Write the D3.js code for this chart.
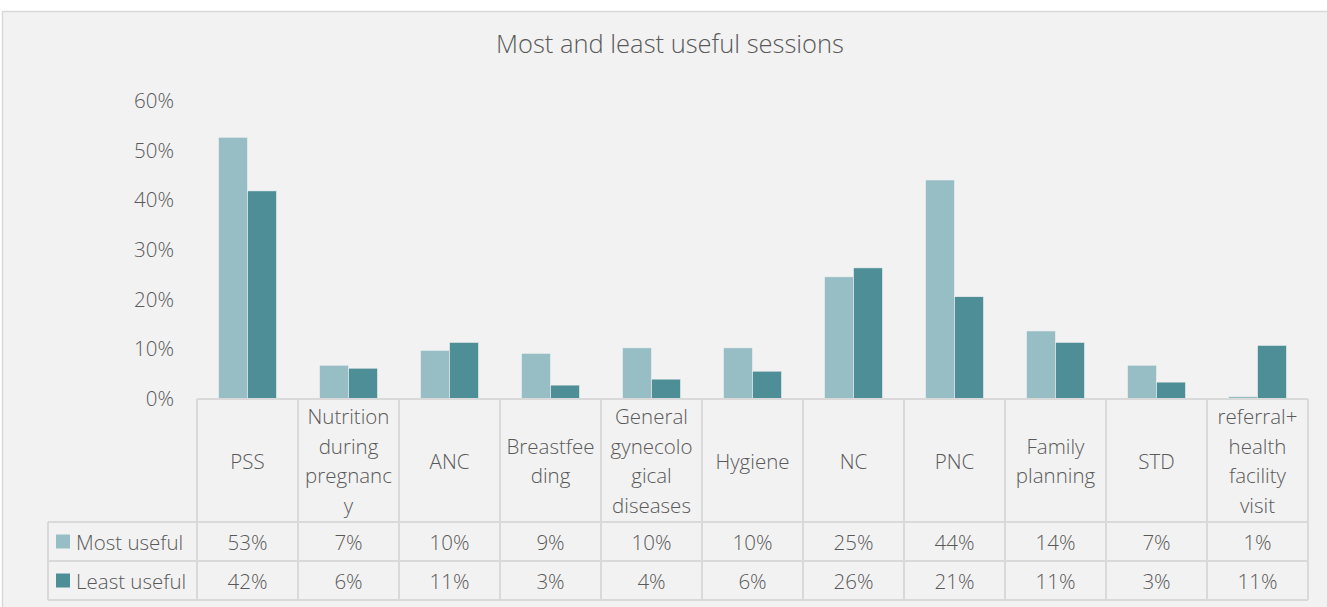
<!DOCTYPE html>
<html>
<head>
<meta charset="utf-8">
<script src="https://cdn.jsdelivr.net/npm/d3@7"></script>
<style>
  html, body { margin: 0; padding: 0; background: #ffffff; }
  svg { display: block; }
  text { font-family: "Open Sans", Lato, sans-serif; fill: #595959; }
</style>
</head>
<body>
<script>
// ---- data ----
const categories = ["PSS", "Nutrition during pregnancy", "ANC", "Breastfeeding", "General gynecological diseases", "Hygiene", "NC", "PNC", "Family planning", "STD", "referral+ health facility visit"];
const categoryLines = [
  ["PSS"],
  ["Nutrition", "during", "pregnanc", "y"],
  ["ANC"],
  ["Breastfee", "ding"],
  ["General", "gynecolo", "gical", "diseases"],
  ["Hygiene"],
  ["NC"],
  ["PNC"],
  ["Family", "planning"],
  ["STD"],
  ["referral+", "health", "facility", "visit"]
];
const seriesNames = ["Most useful", "Least useful"];
const mostUseful = [0.527, 0.068, 0.098, 0.092, 0.103, 0.103, 0.246, 0.441, 0.137, 0.068, 0.005];
const leastUseful = [0.419, 0.062, 0.114, 0.028, 0.040, 0.056, 0.264, 0.206, 0.114, 0.034, 0.108];
const mostLabels = ["53%", "7%", "10%", "9%", "10%", "10%", "25%", "44%", "14%", "7%", "1%"];
const leastLabels = ["42%", "6%", "11%", "3%", "4%", "6%", "26%", "21%", "11%", "3%", "11%"];
const yTicks = [0, 0.1, 0.2, 0.3, 0.4, 0.5, 0.6];
const title = "Most and least useful sessions";

// ---- layout ----
const W = 1327, H = 607;
const colors = ["#98bec5", "#4e8e97"];
const gridColor = "#d9d9d9";
const FS = 20.5;

const svg = d3.select("body").append("svg").attr("width", W).attr("height", H);

svg.append("rect").attr("x", 2.5).attr("y", 11.5).attr("width", W + 10).attr("height", H + 10)
  .attr("fill", "#f2f2f2").attr("stroke", "#d9d9d9").attr("stroke-width", 1.5);

svg.append("text").attr("x", 670).attr("y", 53).attr("text-anchor", "middle")
  .attr("font-size", 25.5).attr("font-weight", 300).text(title);

const x = d3.scaleBand().domain(categories).range([197, 1308]).paddingInner(0).paddingOuter(0);
const xs = d3.scaleBand().domain(seriesNames).range([0, x.bandwidth()]).paddingInner(0).paddingOuter(0.74);
const y = d3.scaleLinear().domain([0, 0.6]).range([399, 101]);

const yAxis = d3.axisLeft(y).tickValues(yTicks).tickFormat(d3.format(".0%")).tickSize(0).tickPadding(0);
const yg = svg.append("g").attr("transform", "translate(174,0)").call(yAxis);
yg.select(".domain").remove();
yg.selectAll("text").attr("font-size", FS).attr("fill", "#595959")
  .style("font-family", "'Open Sans', Lato, sans-serif").attr("font-weight", 300);

const seriesValues = [mostUseful, leastUseful];
seriesNames.forEach((s, si) => {
  svg.append("g").selectAll("rect").data(categories).join("rect")
    .attr("x", d => x(d) + xs(s))
    .attr("y", (d, i) => y(seriesValues[si][i]))
    .attr("width", xs.bandwidth())
    .attr("height", (d, i) => y(0) - y(seriesValues[si][i]))
    .attr("fill", colors[si])
    .attr("stroke", "#f2f2f2").attr("stroke-width", 0.6);
});

const tableTop = 399, headerBottom = 522, row1Bottom = 561, row2Bottom = 600, legendLeft = 48;
const tg = svg.append("g").attr("stroke", gridColor).attr("stroke-width", 2).attr("fill", "none");
tg.append("line").attr("x1", 197).attr("x2", 1308).attr("y1", tableTop).attr("y2", tableTop);
[headerBottom, row1Bottom, row2Bottom].forEach(yy =>
  tg.append("line").attr("x1", legendLeft).attr("x2", 1308).attr("y1", yy).attr("y2", yy));
tg.append("line").attr("x1", legendLeft).attr("x2", legendLeft).attr("y1", headerBottom).attr("y2", row2Bottom);
categories.forEach(c => tg.append("line").attr("x1", x(c)).attr("x2", x(c)).attr("y1", tableTop).attr("y2", row2Bottom));
tg.append("line").attr("x1", 1308).attr("x2", 1308).attr("y1", tableTop).attr("y2", row2Bottom);

const lineH = 29.5;
categories.forEach((c, i) => {
  const lines = categoryLines[i];
  const cy = (tableTop + headerBottom) / 2;
  const start = cy - (lines.length - 1) * lineH / 2;
  const t = svg.append("text").attr("text-anchor", "middle").attr("font-size", FS).attr("font-weight", 300)
    .attr("dominant-baseline", "central");
  lines.forEach((ln, k) => {
    t.append("tspan").attr("x", x(c) + x.bandwidth() / 2).attr("y", start + k * lineH).text(ln);
  });
});

const rowLabels = [mostLabels, leastLabels];
const rowCenters = [(headerBottom + row1Bottom) / 2, (row1Bottom + row2Bottom) / 2];
seriesNames.forEach((s, si) => {
  svg.append("rect").attr("x", 56).attr("y", rowCenters[si] - 7).attr("width", 14).attr("height", 14).attr("fill", colors[si]);
  svg.append("text").attr("x", 76).attr("y", rowCenters[si]).attr("dominant-baseline", "central")
    .attr("font-size", FS).attr("font-weight", 300).text(s);
  categories.forEach((c, i) => {
    svg.append("text").attr("x", x(c) + x.bandwidth() / 2).attr("y", rowCenters[si])
      .attr("text-anchor", "middle").attr("dominant-baseline", "central")
      .attr("font-size", FS).attr("font-weight", 300).text(rowLabels[si][i]);
  });
});
</script>
</body>
</html>
